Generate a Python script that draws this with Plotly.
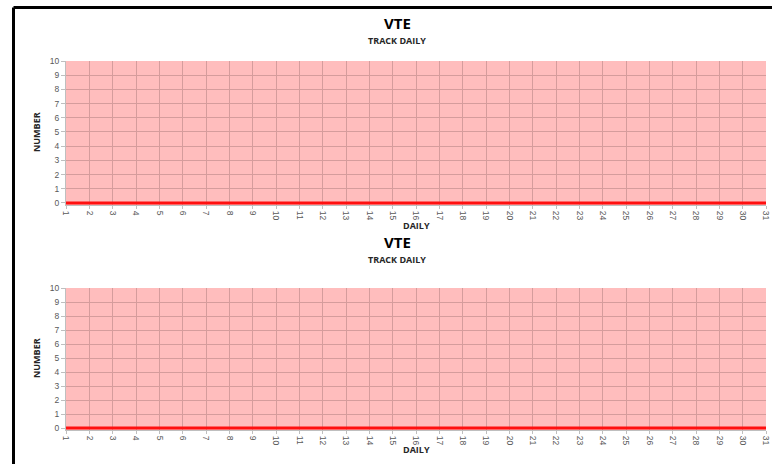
import plotly.graph_objects as go

days = list(range(1, 32))
vte_top = [0] * 31
vte_bottom = [0] * 31
y_ticks = list(range(0, 11))
x_ticks = days

W, H = 772, 464
fig = go.Figure()

def px_y(p):
    return 1 - p / H

def px_x(p):
    return p / W

x_dom = [px_x(66), px_x(766)]
top_dom = [px_y(205.1), px_y(61)]
bot_dom = [px_y(430.1), px_y(288)]

fig.add_trace(go.Scatter(x=days, y=vte_top, mode="lines",
                         line=dict(color="#FF1010", width=3),
                         xaxis="x", yaxis="y", showlegend=False, hoverinfo="skip"))
fig.add_trace(go.Scatter(x=days, y=vte_bottom, mode="lines",
                         line=dict(color="#FF1010", width=3),
                         xaxis="x2", yaxis="y2", showlegend=False, hoverinfo="skip"))

tickfont = dict(family="Liberation Sans, Arial", size=8.5, color="#595959")
grid = "#D59C9C"

xa = dict(domain=x_dom, range=[1, 31], tickvals=x_ticks, ticktext=[str(d) for d in x_ticks],
          tickangle=90, tickfont=tickfont, showgrid=True, gridcolor=grid, gridwidth=1,
          zeroline=False, showline=True, linecolor="#BFBFBF", linewidth=1,
          ticks="outside", ticklen=3, tickcolor="#BFBFBF", automargin=False,
          ticklabeloverflow="allow", fixedrange=True)
ya = dict(range=[-0.15, 10], tickvals=y_ticks, tickfont=tickfont, showgrid=True,
          gridcolor=grid, gridwidth=1, zeroline=False, showline=True,
          linecolor="#BFBFBF", linewidth=1, ticks="outside", ticklen=4,
          tickcolor="#BFBFBF", automargin=False, ticklabeloverflow="allow",
          fixedrange=True)

fig.update_layout(
    width=W, height=H,
    margin=dict(l=0, r=0, t=0, b=0),
    paper_bgcolor="white",
    plot_bgcolor="#FFBDBD",
    xaxis=dict(xa, anchor="y"),
    yaxis=dict(ya, domain=top_dom, anchor="x"),
    xaxis2=dict(xa, anchor="y2"),
    yaxis2=dict(ya, domain=bot_dom, anchor="x2"),
    showlegend=False,
)

title_font = dict(family="Open Sans, Liberation Sans", size=15, color="#000000")
sub_font = dict(family="Open Sans, Liberation Sans", size=9, color="#262626")
axis_title_font = dict(family="Open Sans, Liberation Sans", size=9, color="#262626")

annots = []
for (t_y, s_y, d_y, n_y) in [(23, 40, 225, 132), (242, 259, 449, 358)]:
    annots.append(dict(text="<b>VTE</b>", x=px_x(397), y=px_y(t_y), xref="paper", yref="paper",
                       showarrow=False, font=title_font, xanchor="center", yanchor="middle"))
    annots.append(dict(text="<b>TRACK DAILY</b>", x=px_x(397), y=px_y(s_y), xref="paper", yref="paper",
                       showarrow=False, font=sub_font, xanchor="center", yanchor="middle"))
    annots.append(dict(text="<b>DAILY</b>", x=px_x(416), y=px_y(d_y), xref="paper", yref="paper",
                       showarrow=False, font=axis_title_font, xanchor="center", yanchor="middle"))
    annots.append(dict(text="<b>NUMBER</b>", x=px_x(36), y=px_y(n_y), xref="paper", yref="paper",
                       showarrow=False, font=axis_title_font, textangle=-90,
                       xanchor="center", yanchor="middle"))
fig.update_layout(annotations=annots)

fig.update_layout(shapes=[
    dict(type="line", xref="paper", yref="paper", x0=px_x(13.5), x1=1.0,
         y0=px_y(7.5), y1=px_y(7.5), line=dict(color="black", width=3)),
    dict(type="line", xref="paper", yref="paper", x0=px_x(13.5), x1=px_x(13.5),
         y0=px_y(7.5), y1=0, line=dict(color="black", width=3)),
])

fig.write_html("out.html", config={"displayModeBar": False},
               post_script="document.body.style.margin='0';document.body.style.overflow='hidden';")
